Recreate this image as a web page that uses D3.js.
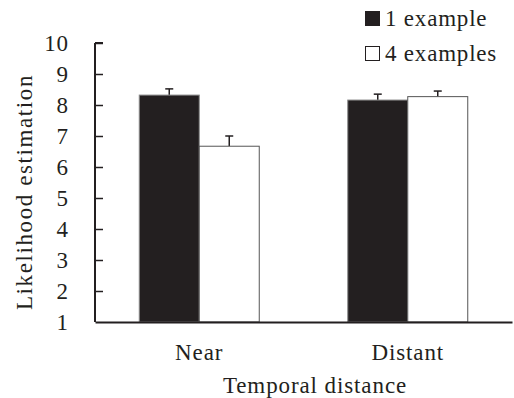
<!DOCTYPE html>
<html>
<head>
<meta charset="utf-8">
<script src="https://cdn.jsdelivr.net/npm/d3@7"></script>
<style>
  html, body { margin: 0; padding: 0; background: #fff; }
  svg text { font-family: "Liberation Serif", "Times New Roman", serif; fill: #231f20; }
</style>
</head>
<body>
<svg id="chart" width="514" height="398"></svg>
<script>
// Mean likelihood estimation by temporal distance and number of examples
const categories = ["Near", "Distant"];
const seriesNames = ["1 example", "4 examples"];
const oneExample = [8.32, 8.16];
const fourExamples = [6.67, 8.27];
const oneExampleErr = [0.2, 0.19];
const fourExamplesErr = [0.33, 0.18];
const yTicks = [1, 2, 3, 4, 5, 6, 7, 8, 9, 10];

const ink = "#231f20";
const fontSize = 23;
const svg = d3.select("#chart");
const margin = { left: 95, right: 2, top: 43, bottom: 76 };
const W = 514, H = 398;

const x = d3.scaleBand().domain(categories).range([margin.left, W - margin.right]).padding(0);
const sub = d3.scaleBand().domain(seriesNames).range([0, 120]);
const y = d3.scaleLinear().domain([1, 10]).range([H - margin.bottom, margin.top]);

const series = [
  { name: seriesNames[0], values: oneExample, errs: oneExampleErr, fill: ink, stroke: "#8a8a8a" },
  { name: seriesNames[1], values: fourExamples, errs: fourExamplesErr, fill: "#ffffff", stroke: "#555555" }
];

const barX = (s, c) => x(c) + x.bandwidth() / 2 - 60 + sub(s.name);

// Error bars (upper whisker only), drawn behind bars
series.forEach(s => {
  const g = svg.append("g");
  categories.forEach((c, i) => {
    const cx = barX(s, c) + sub.bandwidth() / 2;
    const top = y(s.values[i] + s.errs[i]);
    g.append("line").attr("x1", cx).attr("x2", cx)
      .attr("y1", y(s.values[i])).attr("y2", top)
      .attr("stroke", ink).attr("stroke-width", 1.5);
    g.append("line").attr("x1", cx - 4).attr("x2", cx + 4)
      .attr("y1", top).attr("y2", top)
      .attr("stroke", ink).attr("stroke-width", 1.5);
  });
});

// Bars
series.forEach(s => {
  svg.append("g").selectAll("rect").data(categories).join("rect")
    .attr("x", c => barX(s, c))
    .attr("y", (c, i) => y(s.values[i]))
    .attr("width", sub.bandwidth())
    .attr("height", (c, i) => y(1) - y(s.values[i]))
    .attr("fill", s.fill)
    .attr("stroke", s.stroke)
    .attr("stroke-width", 1);
});

// Y axis
const yAxis = svg.append("g").attr("transform", `translate(${margin.left},0)`)
  .call(d3.axisLeft(y).tickValues(yTicks).tickSize(-8).tickPadding(26).tickFormat(d3.format("d")));
yAxis.select(".domain").attr("stroke", ink).attr("stroke-width", 2).attr("d", `M0,${y(10)}H8M0,${y(10)}V${y(1)}`);
yAxis.selectAll(".tick line").attr("stroke", ink).attr("stroke-width", 1.5);
yAxis.selectAll(".tick").filter(d => d === 1).select("line").remove();
yAxis.selectAll(".tick text").attr("font-size", fontSize).attr("letter-spacing", 0.9)
  .attr("font-family", "Liberation Serif").attr("fill", ink);

// X axis
const xAxis = svg.append("g").attr("transform", `translate(0,${y(1)})`)
  .call(d3.axisBottom(x).tickSize(0).tickPadding(22));
xAxis.select(".domain").attr("stroke", ink).attr("stroke-width", 2);
xAxis.selectAll(".tick text").attr("font-size", fontSize).attr("letter-spacing", 0.9)
  .attr("font-family", "Liberation Serif").attr("fill", ink).attr("dy", "0.71em");

// Axis titles
svg.append("text").attr("x", 315).attr("y", 393).attr("text-anchor", "middle")
  .attr("font-size", fontSize).attr("letter-spacing", 0.9).text("Temporal distance");
svg.append("text").attr("transform", `translate(32,${192}) rotate(-90)`)
  .attr("text-anchor", "middle").attr("font-size", fontSize).attr("letter-spacing", 1.6)
  .text("Likelihood estimation");

// Legend
const legend = svg.append("g");
series.forEach((s, i) => {
  const base = 26 + i * 35;
  legend.append("rect").attr("x", 365.5).attr("y", base - 14.5).attr("width", 14).attr("height", 14)
    .attr("fill", s.fill).attr("stroke", ink).attr("stroke-width", 1);
  legend.append("text").attr("x", 385).attr("y", base).attr("font-size", fontSize)
    .attr("letter-spacing", 0.8).text(s.name);
});
</script>
</body>
</html>
